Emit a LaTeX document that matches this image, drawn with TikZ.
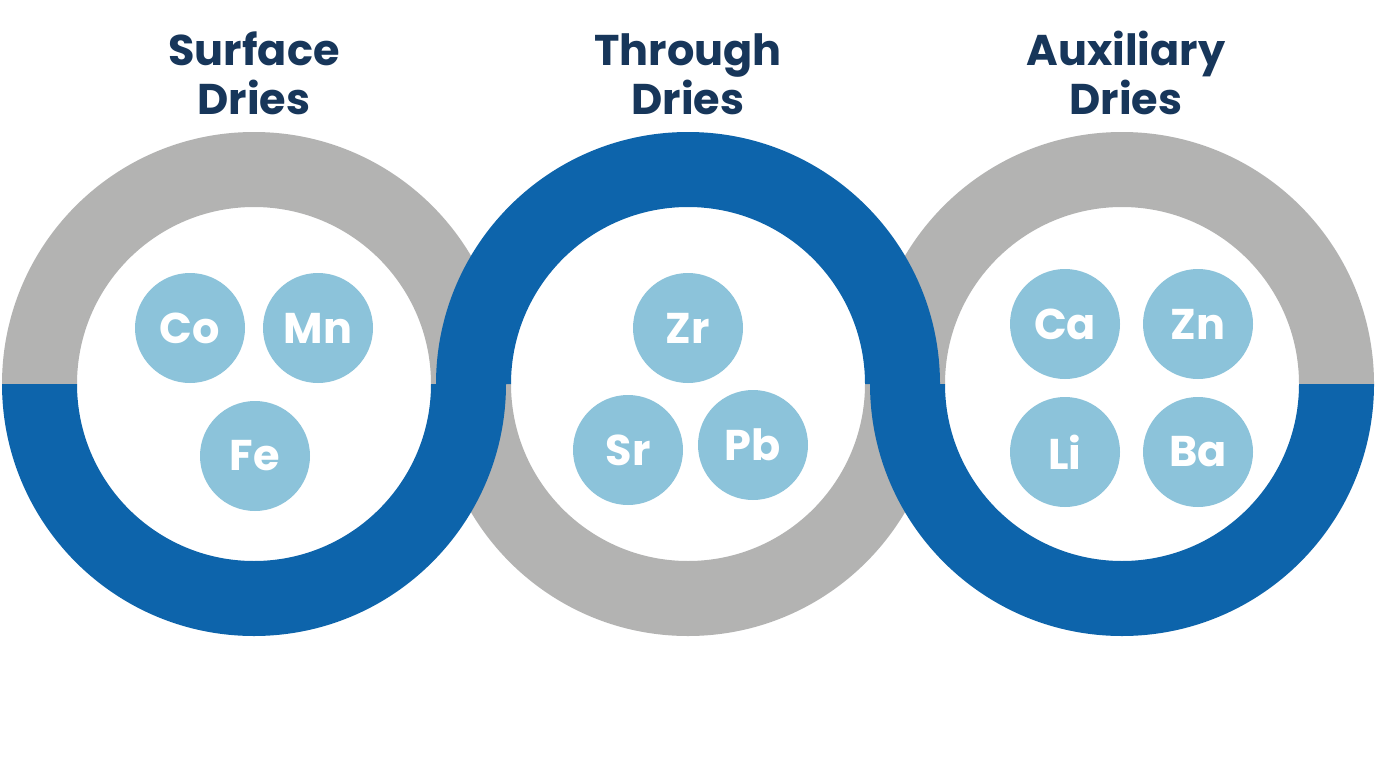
\documentclass[tikz,border=0pt]{standalone}
\usepackage{fontspec}
\setmainfont{Poppins}
\definecolor{ringgray}{HTML}{B3B3B2}
\definecolor{ringblue}{HTML}{0D64AB}
\definecolor{dot}{HTML}{8CC3DA}
\definecolor{navy}{HTML}{17365A}
\newcommand\halfring[4]{%
  \fill[#4] (#1,#2) ++(#3:252) arc[start angle=#3, delta angle=180, radius=252]
    -- ++(#3:75) arc[start angle=#3+180, delta angle=-180, radius=177] -- cycle;}
\tikzset{
  elem/.style={circle, fill=dot, minimum size=110pt, inner sep=0pt, text=white,
    font=\fontsize{43}{48}\selectfont\bfseries},
  title/.style={align=center, text=navy, inner sep=0pt, anchor=base,
    font=\fontsize{43}{49}\selectfont\bfseries}
}
\begin{document}
\begin{tikzpicture}[x=1pt,y=-1pt]
\fill[white] (0,0) rectangle (1376,768);
\useasboundingbox (0,0) rectangle (1376,768);
% gray halves first
\halfring{254}{384}{180}{ringgray}
\halfring{688}{384}{0}{ringgray}
\halfring{1122}{384}{180}{ringgray}
% blue halves on top
\halfring{254}{384}{0}{ringblue}
\halfring{688}{384}{180}{ringblue}
\halfring{1122}{384}{0}{ringblue}
% titles
\node[title] (t1) at (254,114) {Surface\\Dries};
\node[title] (t2) at (688,114) {Through\\Dries};
\node[title] (t3) at (1126,114) {Auxiliary\\Dries};
% elements
\node[elem] (co) at (190,328) {Co};
\node[elem] (mn) at (318,328) {Mn};
\node[elem] (fe) at (255,456) {Fe};
\node[elem] (zr) at (688,328) {Zr};
\node[elem] (sr) at (628,450) {Sr};
\node[elem] (pb) at (753,445) {Pb};
\node[elem] (ca) at (1065,324) {Ca};
\node[elem] (zn) at (1198,324) {Zn};
\node[elem] (li) at (1065,452) {Li};
\node[elem] (ba) at (1198,452) {Ba};
\end{tikzpicture}
\end{document}
